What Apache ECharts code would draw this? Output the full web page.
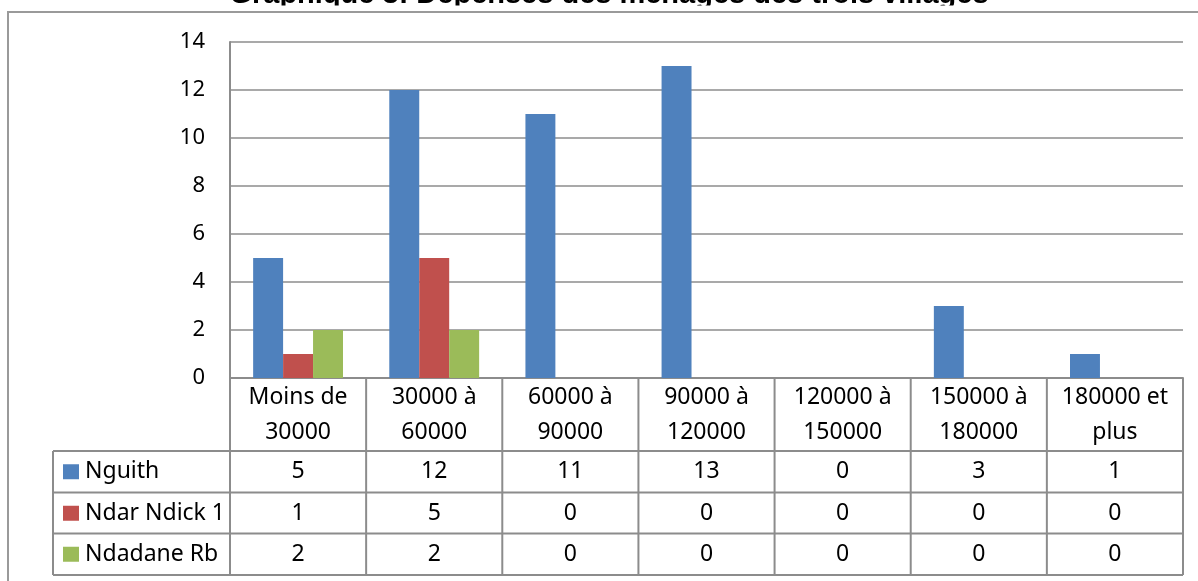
<!DOCTYPE html>
<html>
<head>
<meta charset="utf-8">
<script src="https://cdn.jsdelivr.net/npm/echarts@6/dist/echarts.min.js"></script>
<style>
  html, body { margin: 0; padding: 0; background: #fff; }
  #box { width: 1198px; height: 581px; }
</style>
</head>
<body>
<div id="box"></div>
<script>
// données
const titre = 'Graphique 3: Dépenses des ménages des trois villages';
const categories = ['Moins de\n30000', '30000 à\n60000', '60000 à\n90000', '90000 à\n120000', '120000 à\n150000', '150000 à\n180000', '180000 et\nplus'];
const villages = ['Nguith', 'Ndar Ndick 1', 'Ndadane Rb'];
const nguith = [5, 12, 11, 13, 0, 3, 1];
const ndarNdick = [1, 5, 0, 0, 0, 0, 0];
const ndadane = [2, 2, 0, 0, 0, 0, 0];
const couleurs = ['#4F81BD', '#C0504D', '#9BBB59'];

const valeurs = [nguith, ndarNdick, ndadane];
const FONT = '"Noto Sans", sans-serif';
const gris = '#8c8c8c';

let myChart = echarts.init(document.getElementById('box'));

let option = {
  animation: false,
  grid: { left: 230, top: 42, right: 15, bottom: 203 },
  xAxis: {
    type: 'category',
    data: categories,
    axisLine: { lineStyle: { color: gris, width: 2 } },
    axisTick: { show: false },
    axisLabel: { show: false }
  },
  yAxis: {
    type: 'value',
    min: 0,
    max: 14,
    interval: 2,
    axisLine: { show: true, lineStyle: { color: gris, width: 2 } },
    axisTick: { show: false },
    axisLabel: { color: '#000', fontSize: 22, fontFamily: FONT, margin: 25 },
    splitLine: { lineStyle: { color: gris, width: 1.5 } }
  },
  series: villages.map((nom, i) => ({
    name: nom,
    type: 'bar',
    data: valeurs[i],
    barGap: '0%',
    barCategoryGap: '34%',
    itemStyle: { color: couleurs[i] }
  }))
};
myChart.setOption(option);

// tableau de données sous l'axe, placé avec l'échelle de l'axe
function buildTable() {
  const xs = categories.map((c, i) => myChart.convertToPixel({ xAxisIndex: 0 }, i));
  const band = xs[1] - xs[0];
  const y0 = myChart.convertToPixel({ yAxisIndex: 0 }, 0);
  const rowTops = [451, 492.5, 533.5];
  const rowH = 41.5;
  const bottom = rowTops[2] + rowH;
  const leftTab = 53;
  const right = xs[xs.length - 1] + band / 2;
  const g = [];
  const line = (x1, y1, x2, y2) => g.push({
    type: 'line', z: 10,
    shape: { x1, y1, x2, y2 },
    style: { stroke: gris, lineWidth: 2 }
  });
  // titre coupé et cadre extérieur
  g.push({ type: 'text', z: 1, style: {
    text: titre, x: 609, y: -5, align: 'center', verticalAlign: 'middle',
    font: 'bold 29px "Liberation Sans", Arial, sans-serif', fill: '#000' } });
  g.push({ type: 'rect', z: 2, shape: { x: 0, y: 5.5, width: 1198, height: 6 }, style: { fill: '#fff' } });
  g.push({ type: 'rect', z: 3, shape: { x: 7, y: 11, width: 1191, height: 2 }, style: { fill: '#9a9a9a' } });
  g.push({ type: 'rect', z: 3, shape: { x: 7, y: 11, width: 2, height: 570 }, style: { fill: '#9a9a9a' } });
  // lignes verticales
  for (let i = 0; i <= xs.length; i++) {
    const x = xs[0] - band / 2 + i * band;
    line(x, y0, x, bottom);
  }
  line(leftTab, rowTops[0], leftTab, bottom);
  // lignes horizontales
  rowTops.concat([bottom]).forEach(y => line(leftTab, y, right, y));
  // en-têtes des catégories
  categories.forEach((c, i) => g.push({
    type: 'text', z: 11,
    style: { text: c, x: xs[i], y: (y0 + rowTops[0]) / 2, align: 'center', verticalAlign: 'middle',
      fontSize: 23, fontFamily: FONT, lineHeight: 35, fill: '#000' }
  }));
  // lignes de valeurs
  villages.forEach((nom, r) => {
    const cy = rowTops[r] + rowH / 2;
    g.push({ type: 'rect', z: 11, shape: { x: 63, y: cy - 7.5, width: 16, height: 15 }, style: { fill: couleurs[r] } });
    g.push({ type: 'text', z: 11, style: { text: nom, x: 85, y: cy, align: 'left', verticalAlign: 'middle',
      fontSize: 23, fontFamily: FONT, fill: '#000' } });
    valeurs[r].forEach((v, i) => g.push({
      type: 'text', z: 11,
      style: { text: String(v), x: xs[i], y: cy, align: 'center', verticalAlign: 'middle',
        fontSize: 23, fontFamily: FONT, fill: '#000' }
    }));
  });
  myChart.setOption({ graphic: g });
}
buildTable();
</script>
</body>
</html>
